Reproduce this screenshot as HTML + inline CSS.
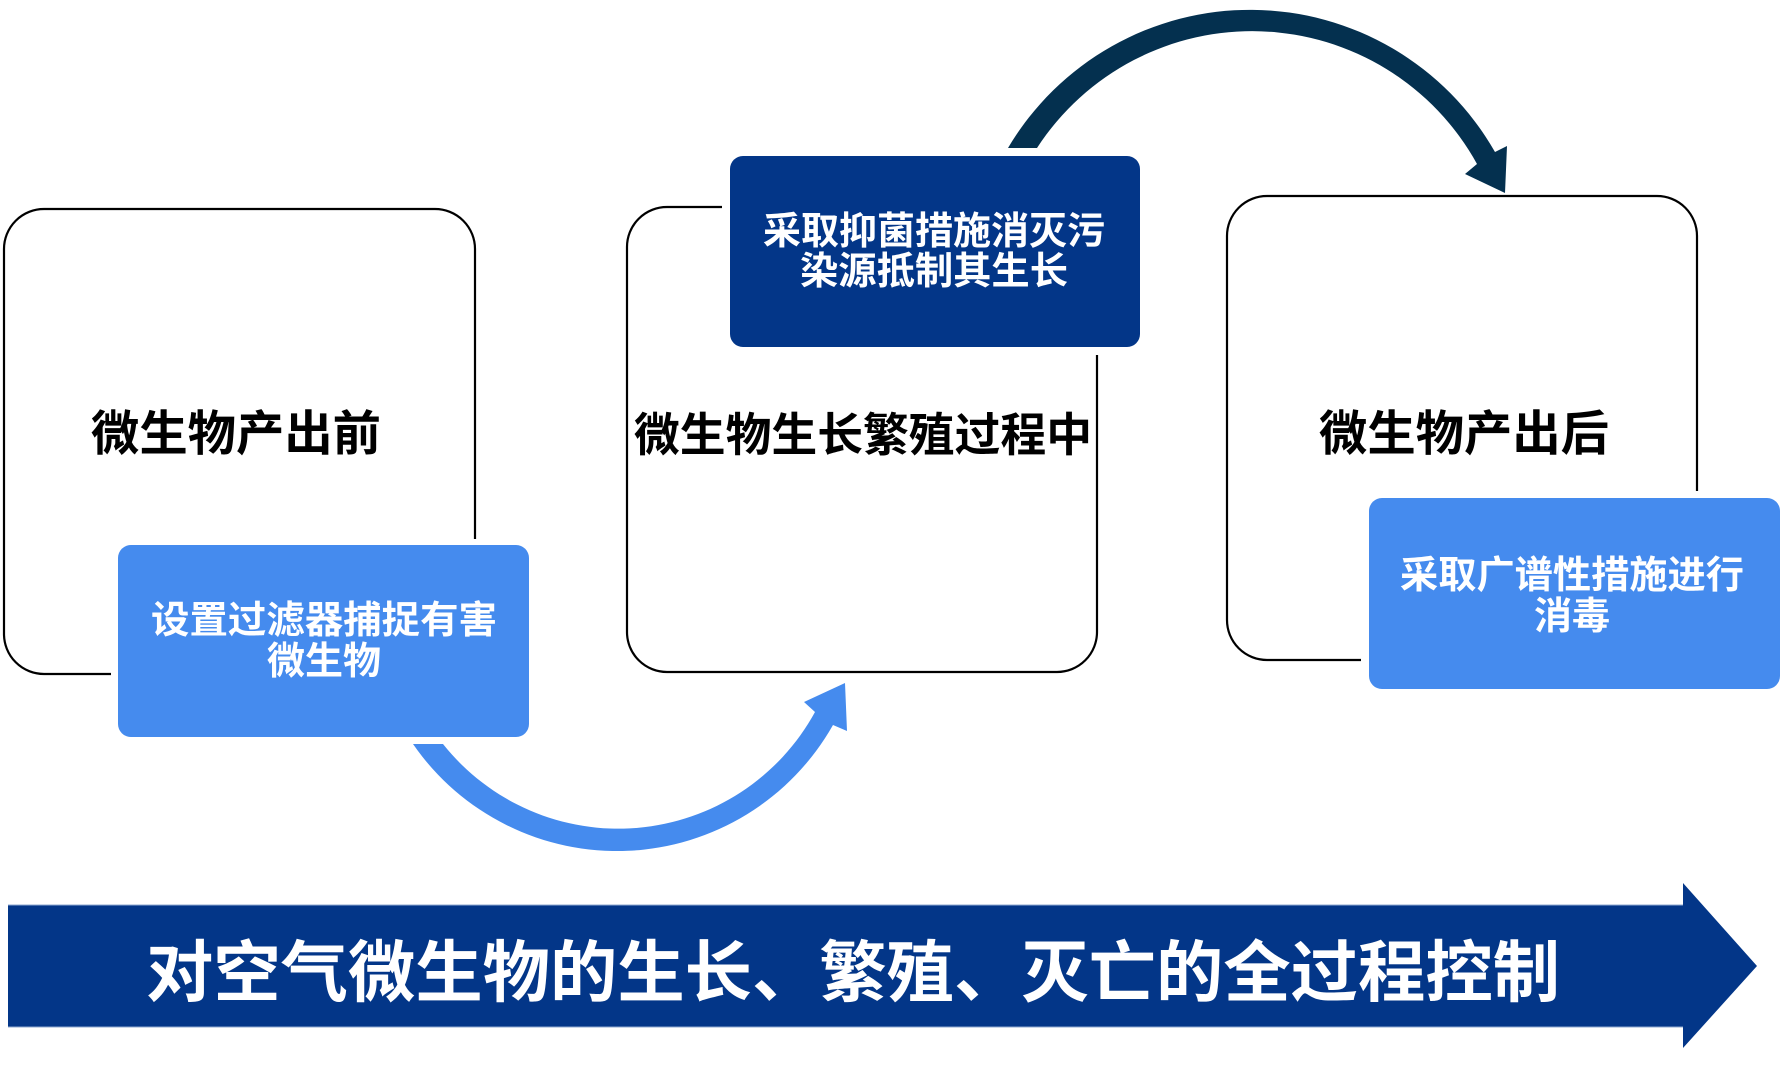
<!DOCTYPE html>
<html>
<head>
<meta charset="utf-8">
<style>
  html, body { margin: 0; padding: 0; background: #ffffff; }
  body { width: 1787px; height: 1066px; overflow: hidden; }
  svg { display: block; }
  text { font-family: "Liberation Sans", "Noto Sans CJK SC", "WenQuanYi Zen Hei", sans-serif; font-weight: 700; }
</style>
</head>
<body>
<svg width="1787" height="1066" viewBox="0 0 1787 1066" xmlns="http://www.w3.org/2000/svg">
  <rect x="0" y="0" width="1787" height="1066" fill="#ffffff"/>

  <!-- Box 1 outline -->
  <path d="M 475 539 L 475 249 A 40 40 0 0 0 435 209 L 44 209 A 40 40 0 0 0 4 249 L 4 634 A 40 40 0 0 0 44 674 L 111 674"
        fill="none" stroke="#000" stroke-width="2.2"/>
  <!-- Box 2 outline -->
  <path d="M 722 207 L 667 207 A 40 40 0 0 0 627 247 L 627 632 A 40 40 0 0 0 667 672 L 1057 672 A 40 40 0 0 0 1097 632 L 1097 355"
        fill="none" stroke="#000" stroke-width="2.2"/>
  <!-- Box 3 outline -->
  <path d="M 1697 491 L 1697 236 A 40 40 0 0 0 1657 196 L 1267 196 A 40 40 0 0 0 1227 236 L 1227 620 A 40 40 0 0 0 1267 660 L 1361 660"
        fill="none" stroke="#000" stroke-width="2.2"/>

  <!-- Main labels -->
  <text x="236" y="450" font-size="48" text-anchor="middle" fill="#000" textLength="290" lengthAdjust="spacingAndGlyphs">微生物产出前</text>
  <text x="863" y="451" font-size="46" text-anchor="middle" fill="#000" textLength="458" lengthAdjust="spacingAndGlyphs">微生物生长繁殖过程中</text>
  <text x="1464" y="450" font-size="48" text-anchor="middle" fill="#000" textLength="290" lengthAdjust="spacingAndGlyphs">微生物产出后</text>

  <!-- Blue box 1 -->
  <rect x="118" y="545" width="411" height="192" rx="13" ry="13" fill="#458BEE"/>
  <text x="324" y="633" font-size="38" text-anchor="middle" fill="#fff" textLength="346" lengthAdjust="spacingAndGlyphs">设置过滤器捕捉有害</text>
  <text x="324" y="674" font-size="38" text-anchor="middle" fill="#fff">微生物</text>

  <!-- Dark box -->
  <rect x="730" y="156" width="410" height="191" rx="13" ry="13" fill="#033688"/>
  <text x="934" y="244" font-size="38" text-anchor="middle" fill="#fff" textLength="342" lengthAdjust="spacingAndGlyphs">采取抑菌措施消灭污</text>
  <text x="934" y="284" font-size="38" text-anchor="middle" fill="#fff" textLength="268" lengthAdjust="spacingAndGlyphs">染源抵制其生长</text>

  <!-- Blue box 3 -->
  <rect x="1369" y="498" width="411" height="191" rx="13" ry="13" fill="#458BEE"/>
  <text x="1572" y="588" font-size="38" text-anchor="middle" fill="#fff" textLength="344" lengthAdjust="spacingAndGlyphs">采取广谱性措施进行</text>
  <text x="1572" y="629" font-size="38" text-anchor="middle" fill="#fff">消毒</text>

  <!-- Light blue curved arrow (bottom) -->
  <path d="M 413 744 A 248 248 0 0 0 833 725 L 847 731 L 845 683 L 804 702 L 815 712 A 224 224 0 0 1 443 744 Z"
        fill="#458BEE"/>

  <!-- Dark curved arrow (top) -->
  <path d="M 1008 148 A 281.6 281.6 0 0 1 1495 152 L 1507 146 L 1505 193 L 1465 174 L 1477 164 A 256.6 256.6 0 0 0 1037 148 Z"
        fill="#04304F"/>

  <!-- Bottom big arrow -->
  <path d="M 8 905 L 1683 905 L 1683 883 L 1757 966 L 1683 1048 L 1683 1027 L 8 1027 Z" fill="#033688"/>
  <line x1="8" y1="905" x2="1683" y2="905" stroke="#8FA8D0" stroke-width="1"/>
  <line x1="8" y1="1027" x2="1683" y2="1027" stroke="#8FA8D0" stroke-width="1"/>
  <text x="853" y="996" font-size="67" text-anchor="middle" fill="#fff" textLength="1414" lengthAdjust="spacingAndGlyphs">对空气微生物的生长、繁殖、灭亡的全过程控制</text>
</svg>
</body>
</html>
